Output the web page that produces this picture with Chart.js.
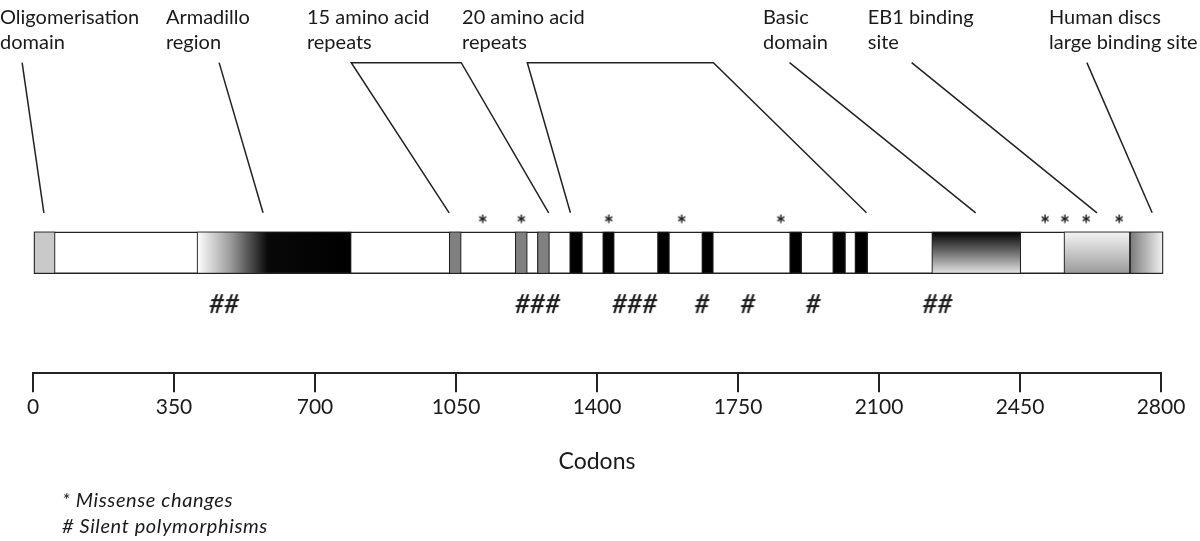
<!DOCTYPE html>
<html>
<head>
<meta charset="utf-8">
<script src="https://cdn.jsdelivr.net/npm/chart.js@4.4.0/dist/chart.umd.min.js"></script>
<style>
    html, body { margin: 0; padding: 0; background: #ffffff; }
    #wrap { position: relative; width: 1200px; height: 541px; }
</style>
</head>
<body>
<div id="wrap"><canvas id="apcChart" width="1200" height="541"></canvas></div>
<script>
// Protein length and axis ticks (codons)
const proteinLength = 2805;
const codonTicks = [0, 350, 700, 1050, 1400, 1750, 2100, 2450, 2800];

// Domains as [start, end] codons
const oligomerisation = [[0, 55]];
const armadillo = [[407, 790]];
const repeats15 = [[1033, 1063], [1197, 1227], [1252, 1282]];
const repeats20 = [[1332, 1364], [1414, 1443], [1550, 1580], [1660, 1689], [1878, 1908], [1985, 2017], [2040, 2072]];
const basicDomain = [[2231, 2452]];
const eb1Site = [[2559, 2723]];
const hdlgSite = [[2723, 2805]];

// Variants
const missenseCodons = [1116, 1212, 1429, 1610, 1856, 2512, 2561, 2614, 2696];
const silentCodons = [477, 1255, 1496, 1662, 1776, 1938, 2248];
const silentCounts = [2, 3, 3, 1, 1, 1, 2];

// Domain labels and where their leader lines start / end (codons)
const domainLabels = [
    ['Oligomerisation', 'domain'],
    ['Armadillo', 'region'],
    ['15 amino acid', 'repeats'],
    ['20 amino acid', 'repeats'],
    ['Basic', 'domain'],
    ['EB1 binding', 'site'],
    ['Human discs', 'large binding site']
];
const labelCodons = [-82, 330, 680, 1065, 1812, 2072, 2522];
const leaderTop = [[-27], [462], [790, 1063], [1227, 1689], [1878], [2181], [2616]];
const leaderBottom = [[27], [571], [1033, 1280], [1334, 2069], [2340], [2641], [2778]];

// Vertical levels on the hidden y scale (0..10)
const BAR_Y = 3.29;
const STAR_Y = 4.21;
const HASH_Y = 1.9;
const LEADER_TOP_Y = 8.48;
const LEADER_BOTTOM_Y = 4.38;
const LABEL_BASELINE_Y = [9.524, 8.862];
const BAR_HEIGHT = 42;

const textColor = '#1a1a1a';
const lineColor = '#222222';

// Small canvas with a text glyph, used as point style
function glyphCanvas(text, font) {
    const c = document.createElement('canvas');
    let g = c.getContext('2d');
    g.font = font;
    const m = g.measureText(text);
    c.width = Math.ceil(m.actualBoundingBoxLeft + m.actualBoundingBoxRight) + 4;
    c.height = Math.ceil(m.actualBoundingBoxAscent + m.actualBoundingBoxDescent) + 4;
    g = c.getContext('2d');
    g.font = font;
    g.fillStyle = textColor;
    g.fillText(text, 2 + m.actualBoundingBoxLeft, 2 + m.actualBoundingBoxAscent);
    return c;
}

// Bar top / bottom pixels for vertical gradients
function barPixels(chart) {
    const mid = chart.scales.y.getPixelForValue(BAR_Y);
    return [mid - BAR_HEIGHT / 2, mid + BAR_HEIGHT / 2];
}

function armadilloFill(context) {
    const chart = context.chart;
    if (!chart.chartArea || !chart.scales.x) return '#777';
    const xs = chart.scales.x;
    const g = chart.ctx.createLinearGradient(xs.getPixelForValue(armadillo[0][0]), 0, xs.getPixelForValue(armadillo[0][1]), 0);
    g.addColorStop(0, '#ffffff');
    g.addColorStop(0.22, '#9a9a9a');
    g.addColorStop(0.46, '#080808');
    g.addColorStop(1, '#000000');
    return g;
}

function basicFill(context) {
    const chart = context.chart;
    if (!chart.chartArea || !chart.scales.y) return '#777';
    const [top, bottom] = barPixels(chart);
    const g = chart.ctx.createLinearGradient(0, top, 0, bottom);
    g.addColorStop(0, '#000000');
    g.addColorStop(0.5, '#707070');
    g.addColorStop(1, '#e6e6e6');
    return g;
}

function eb1Fill(context) {
    const chart = context.chart;
    if (!chart.chartArea || !chart.scales.y) return '#ccc';
    const [top, bottom] = barPixels(chart);
    const g = chart.ctx.createLinearGradient(0, top, 0, bottom);
    g.addColorStop(0, '#f4f4f4');
    g.addColorStop(1, '#9a9a9a');
    return g;
}

function hdlgFill(context) {
    const chart = context.chart;
    if (!chart.chartArea || !chart.scales.x) return '#bbb';
    const xs = chart.scales.x;
    const g = chart.ctx.createLinearGradient(xs.getPixelForValue(hdlgSite[0][0]), 0, xs.getPixelForValue(hdlgSite[0][1]), 0);
    g.addColorStop(0, '#7a7a7a');
    g.addColorStop(1, '#f2f2f2');
    return g;
}

// Helper for a horizontal floating bar dataset
function segmentDataset(label, segments, fill, order) {
    return {
        type: 'bar',
        label: label,
        indexAxis: 'y',
        data: segments.map(([s, e]) => ({ x: [s, e], y: BAR_Y })),
        backgroundColor: fill,
        borderColor: lineColor,
        borderWidth: 1.2,
        borderSkipped: false,
        barThickness: BAR_HEIGHT,
        grouped: false,
        clip: false,
        order: order
    };
}

// Leader line dataset (single line or bracket)
function leaderDataset(i) {
    const tops = leaderTop[i];
    const bottoms = leaderBottom[i];
    let pts;
    if (tops.length === 1) {
        pts = [{ x: tops[0], y: LEADER_TOP_Y }, { x: bottoms[0], y: LEADER_BOTTOM_Y }];
    } else {
        pts = [
            { x: bottoms[0], y: LEADER_BOTTOM_Y },
            { x: tops[0], y: LEADER_TOP_Y },
            { x: tops[1], y: LEADER_TOP_Y },
            { x: bottoms[1], y: LEADER_BOTTOM_Y }
        ];
    }
    return {
        type: 'scatter',
        label: domainLabels[i].join(' '),
        data: pts,
        showLine: true,
        borderColor: lineColor,
        borderWidth: 1.5,
        pointRadius: 0,
        tension: 0,
        clip: false,
        order: 0
    };
}

// Domain labels and footnotes
const annotationText = {
    id: 'annotationText',
    afterDatasetsDraw(chart) {
        const { ctx, scales: { x, y } } = chart;
        ctx.save();
        ctx.fillStyle = textColor;
        ctx.textBaseline = 'alphabetic';
        ctx.textAlign = 'left';
        ctx.font = '20px Lato';
        domainLabels.forEach((lines, i) => {
            lines.forEach((text, j) => {
                ctx.fillText(text, x.getPixelForValue(labelCodons[i]), y.getPixelForValue(LABEL_BASELINE_Y[j]));
            });
        });
        ctx.font = 'italic 20px Lato';
        ctx.letterSpacing = '0.6px';
        ctx.fillText('* Missense changes', 62, 507);
        ctx.fillText('# Silent polymorphisms', 62, 533);
        ctx.restore();
    }
};

function buildChart() {
    Chart.defaults.font.family = 'Lato';
    Chart.defaults.color = textColor;

    const starGlyph = glyphCanvas('*', 'bold 24px Lato');
    const hashGlyphs = {};
    silentCounts.forEach(n => {
        if (!hashGlyphs[n]) hashGlyphs[n] = glyphCanvas('#'.repeat(n), 'italic 600 26px Lato');
    });

    const datasets = [
        {
            type: 'scatter',
            label: 'Missense changes',
            data: missenseCodons.map(c => ({ x: c, y: STAR_Y })),
            pointStyle: starGlyph,
            pointRadius: 6,
            clip: false,
            order: 0
        },
        {
            type: 'scatter',
            label: 'Silent polymorphisms',
            data: silentCodons.map(c => ({ x: c, y: HASH_Y })),
            pointStyle: ctx => hashGlyphs[silentCounts[ctx.dataIndex]],
            pointRadius: 6,
            clip: false,
            order: 0
        },
        segmentDataset('Oligomerisation domain', oligomerisation, '#c9c9c9', 1),
        segmentDataset('Armadillo region', armadillo, armadilloFill, 1),
        segmentDataset('15 amino acid repeats', repeats15, '#808080', 1),
        segmentDataset('20 amino acid repeats', repeats20, '#000000', 1),
        segmentDataset('Basic domain', basicDomain, basicFill, 1),
        segmentDataset('EB1 binding site', eb1Site, eb1Fill, 1),
        segmentDataset('Human discs large binding site', hdlgSite, hdlgFill, 1),
        Object.assign(segmentDataset('APC protein', [[0, proteinLength]], '#ffffff', 10), { borderWidth: 1.6 })
    ];
    domainLabels.forEach((_, i) => datasets.push(leaderDataset(i)));

    new Chart(document.getElementById('apcChart'), {
        type: 'bar',
        data: { datasets: datasets },
        options: {
            responsive: false,
            animation: false,
            events: [],
            layout: { padding: { left: 33, right: 39, top: 0, bottom: 66 } },
            plugins: {
                legend: { display: false },
                tooltip: { enabled: false }
            },
            scales: {
                x: {
                    type: 'linear',
                    position: 'bottom',
                    offset: false,
                    min: 0,
                    max: 2800,
                    afterBuildTicks: scale => {
                        scale.ticks = codonTicks.map(v => ({ value: v }));
                    },
                    ticks: {
                        padding: 2,
                        color: textColor,
                        font: { size: 21 },
                        maxRotation: 0,
                        callback: v => String(v)
                    },
                    grid: {
                        offset: false,
                        drawOnChartArea: false,
                        drawTicks: true,
                        tickLength: 19,
                        color: lineColor,
                        lineWidth: 2
                    },
                    border: { display: true, color: lineColor, width: 2 },
                    title: {
                        display: true,
                        text: 'Codons',
                        color: textColor,
                        font: { size: 23 },
                        padding: { top: 26, bottom: 0 }
                    }
                },
                y: {
                    type: 'linear',
                    offset: false,
                    min: 0,
                    max: 10,
                    display: false
                }
            }
        },
        plugins: [annotationText]
    });
}

Promise.all([
    document.fonts.load('20px Lato'),
    document.fonts.load('bold 24px Lato'),
    document.fonts.load('italic 20px Lato'),
    document.fonts.load('italic 600 26px Lato')
]).then(buildChart, buildChart);
</script>
</body>
</html>
